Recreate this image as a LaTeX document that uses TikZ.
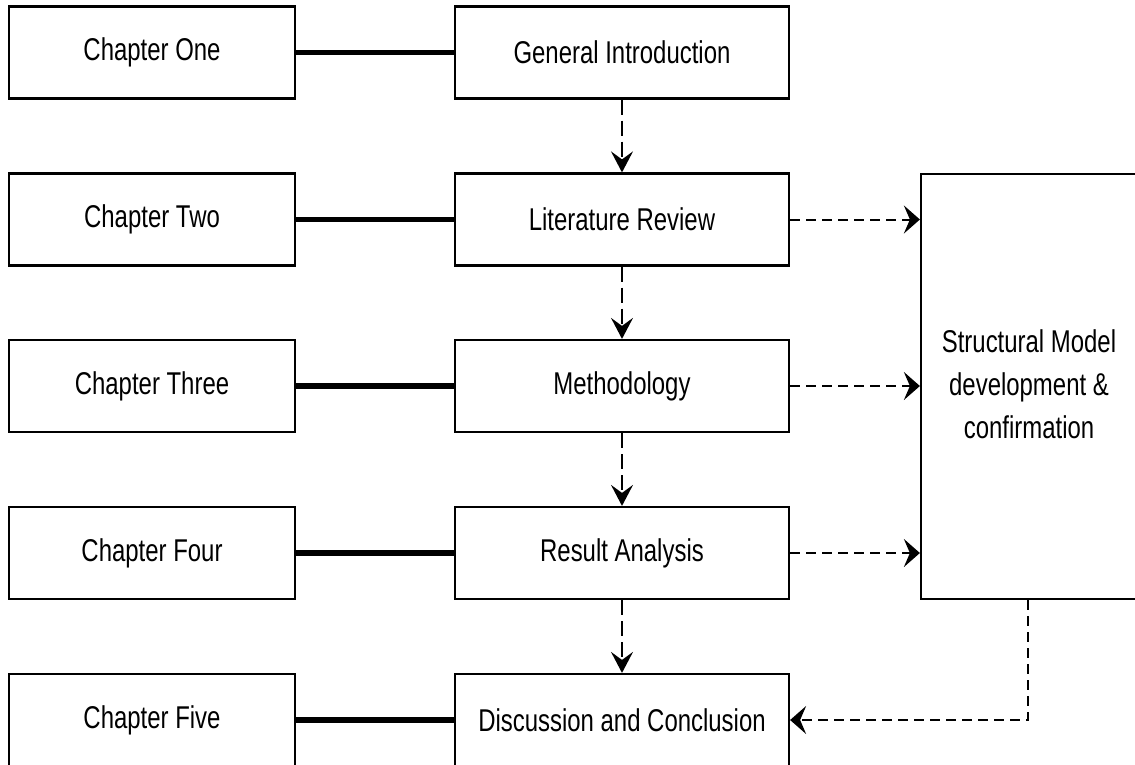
\documentclass[tikz,border=0pt]{standalone}
\usepackage{fontspec}
\setmainfont{Liberation Sans}[FakeStretch=0.76]
\usetikzlibrary{arrows.meta}
\begin{document}
\begin{tikzpicture}[x=1pt,y=-1pt,
  every node/.style={font=\fontsize{31.5}{43}\selectfont},
  box/.style={draw, line width=2.2pt, fill=white, minimum height=92pt, inner sep=0pt, align=center},
  chapbox/.style={box, minimum width=286pt},
  stagebox/.style={box, minimum width=334pt},
  link/.style={line width=5.5pt},
  vflow/.style={line width=1.8pt, dash pattern=on 15pt off 6pt,
    -{Stealth[length=21pt,width=22pt,inset=8pt]}},
  hflow/.style={line width=2pt, dash pattern=on 10pt off 6pt,
    -{Stealth[length=16pt,width=28pt,inset=6pt]}}]
\useasboundingbox (0,0) rectangle (1135,764);
% the model box runs off the right edge
\clip (-5,-5) rectangle (1140,770);

% chapter column
\node[chapbox] (c1) at (152,52.5) {Chapter One};
\node[chapbox] (c2) at (152,219.5) {Chapter Two};
\node[chapbox] (c3) at (152,386) {Chapter Three};
\node[chapbox] (c4) at (152,553) {Chapter Four};
\node[chapbox] (c5) at (152,720) {Chapter Five};

% stage column
\node[stagebox] (s1) at (622,52.5) {General Introduction};
\node[stagebox] (s2) at (622,219.5) {Literature Review};
\node[stagebox] (s3) at (622,386) {Methodology};
\node[stagebox] (s4) at (622,553) {Result Analysis};
\node[stagebox] (s5) at (622,720) {Discussion and Conclusion};

% model box on the right
\node[box, minimum width=226pt, minimum height=425pt] (model) at (1034,386.5)
  {\hspace*{-10pt}\begin{tabular}{c}Structural Model\\development \&\\confirmation\end{tabular}};

% chapter-to-stage links
\foreach \i in {1,...,5} \draw[link] (c\i.east) -- (s\i.west);

% flow down the stages
\draw[vflow] (s1.south) -- (s2.north);
\draw[vflow] (s2.south) -- (s3.north);
\draw[vflow] (s3.south) -- (s4.north);
\draw[vflow] (s4.south) -- (s5.north);

% stages feeding the model
\draw[hflow] (s2.east) -- (s2.east -| model.west);
\draw[hflow] (s3.east) -- (s3.east -| model.west);
\draw[hflow] (s4.east) -- (s4.east -| model.west);

% model back to the conclusion
\coordinate (drop) at ([xshift=-6pt]model.south);
\draw[hflow] (drop) |- (s5.east);
\end{tikzpicture}
\end{document}
